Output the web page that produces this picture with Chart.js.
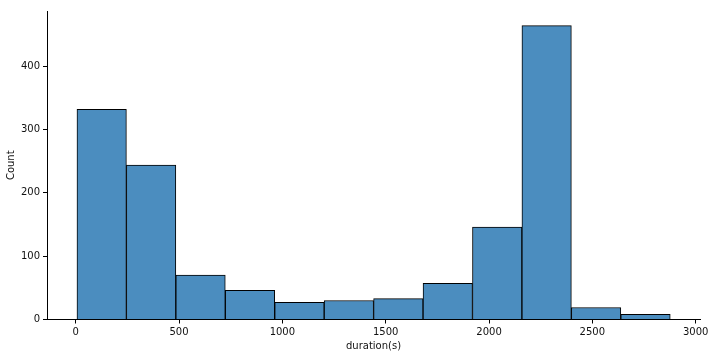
<!DOCTYPE html>
<html>
<head>
<meta charset="utf-8">
<script src="https://cdn.jsdelivr.net/npm/chart.js@4/dist/chart.umd.min.js"></script>
<style>
  body { margin: 0; background: #fff; }
</style>
</head>
<body>
<canvas id="myChart" width="722" height="362"></canvas>
<script>
// histogram bins
const binStart = 6;
const binWidth = 239.25;
const counts = [332, 244, 70, 46, 27, 30, 33, 57, 146, 464, 19, 8];
const xTicks = [0, 500, 1000, 1500, 2000, 2500, 3000];
const yTicks = [0, 100, 200, 300, 400];

// bar centers from the bin edges
const points = counts.map(function (c, i) {
    return { x: binStart + binWidth * (i + 0.5), y: c };
});

const ctx = document.getElementById('myChart');
const tickFont = { family: 'DejaVu Sans', size: 10 };

const myChart = new Chart(ctx, {
    type: 'bar',
    data: {
        datasets: [{
            label: 'Count',
            data: points,
            backgroundColor: '#4b8dbf',
            borderColor: '#000',
            borderWidth: 1,
            borderSkipped: 'start',
            barPercentage: 1,
            categoryPercentage: 1
        }]
    },
    options: {
        responsive: false,
        animation: false,
        layout: { padding: { left: 0, top: 11, right: 22, bottom: 0 } },
        plugins: {
            legend: { display: false },
            tooltip: { enabled: false }
        },
        scales: {
            x: {
                type: 'linear',
                offset: false,
                min: -139,
                max: 3021,
                afterBuildTicks: function (scale) {
                    scale.ticks = xTicks.map(v => ({ value: v }));
                },
                afterFit: function (scale) { scale.height = 42.5; },
                grid: { offset: false, drawOnChartArea: false, drawTicks: true, tickLength: 4, color: '#000' },
                border: { display: true, color: '#000', width: 1 },
                ticks: { color: '#111', font: tickFont, padding: 3, maxRotation: 0,
                    callback: function (v) { return String(v); } },
                title: { display: true, text: 'duration(s)', color: '#111', font: tickFont, padding: { top: 0, bottom: 10 } }
            },
            y: {
                min: 0,
                max: 487.2,
                afterBuildTicks: function (scale) {
                    scale.ticks = yTicks.map(v => ({ value: v }));
                },
                afterFit: function (scale) { scale.width = 47; },
                grid: { drawOnChartArea: false, drawTicks: true, tickLength: 4, color: '#000' },
                border: { display: true, color: '#000', width: 1 },
                ticks: { color: '#111', font: tickFont, padding: 3,
                    callback: function (v) { return String(v); } },
                title: { display: true, text: 'Count', color: '#111', font: tickFont, padding: { top: 5, bottom: 0 } }
            }
        }
    }
});
</script>
</body>
</html>
